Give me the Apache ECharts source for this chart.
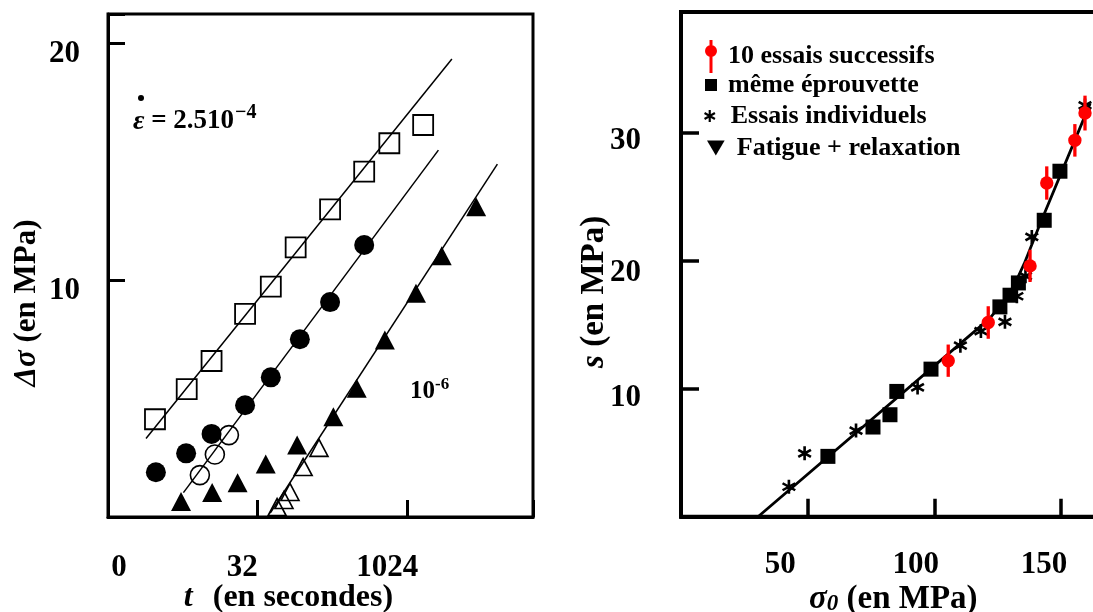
<!DOCTYPE html>
<html>
<head>
<meta charset="utf-8">
<script src="https://cdn.jsdelivr.net/npm/echarts@6/dist/echarts.min.js"></script>
<style>
  html, body { margin: 0; padding: 0; background: #fff; }
  #chart { width: 1093px; height: 612px; }
</style>
</head>
<body>
<div id="chart"></div>
<script>
// ---------- Left panel: stress rise Δσ (MPa) against log2 of time t (s) ----------
const leftXTicks = [0, 5, 10];
const leftXTickLabels = ['0', '32', '1024'];
const leftYTicks = [10, 20];

// [log2(t), Δσ]
const rateHighSquares = [[1.57, 4.13], [2.63, 5.40], [3.46, 6.59], [4.58, 8.58], [5.44, 9.73],
  [6.27, 11.39], [7.42, 13.00], [8.56, 14.59], [9.40, 15.79], [10.53, 16.56]];
const rateMidDots = [[1.60, 1.89], [2.61, 2.69], [3.46, 3.51], [4.58, 4.72], [5.44, 5.90],
  [6.41, 7.51], [7.42, 9.08], [8.56, 11.49]];
const rateMidRings = [[3.07, 1.77], [3.57, 2.64], [4.04, 3.46]];
const rateLowTriangles = [[2.44, 0.65], [3.48, 1.03], [4.33, 1.45], [5.27, 2.24], [6.32, 3.04],
  [7.53, 4.24], [8.31, 5.44], [9.25, 7.48], [10.29, 9.45], [11.15, 11.04], [12.30, 13.11]];
const rateLowOpenTriangles = [[5.65, 0.42], [5.88, 0.72], [6.08, 1.06], [6.52, 2.11], [7.05, 2.92]];

const fitHigh = [[1.27, 3.32], [11.49, 19.35]];
const fitMid = [[2.52, 1.03], [11.04, 15.50]];
const fitLow = [[5.42, 0.17], [13.01, 14.91]];

// ---------- Right panel: s (MPa) against σ0 (MPa) ----------
const rightXTicks = [50, 100, 150];
const rightYTicks = [10, 20, 30];

// [σ0, s, half error bar]
const successiveTests = [[105.5, 12.18, 1.26], [121.3, 15.16, 1.27], [137.8, 19.58, 1.26],
  [144.4, 26.05, 1.30], [155.5, 29.38, 1.27], [159.5, 31.51, 1.36]];
const sameSpecimen = [[58.0, 4.71], [75.8, 7.00], [82.5, 7.96], [85.2, 9.78], [98.7, 11.52],
  [125.9, 16.38], [129.9, 17.29], [133.2, 18.25], [143.4, 23.14], [149.6, 26.97]];
const individualTests = [[42.6, 2.34], [48.8, 4.95], [69.1, 6.72], [93.4, 10.09], [110.3, 13.35],
  [118.4, 14.49], [127.9, 15.21], [132.6, 17.21], [136.0, 18.78], [138.5, 21.84], [159.5, 32.11]];
const fatigueRelaxation = [];
const fitCurve = [[30.4, 0], [122.0, 15.50], [127.5, 16.85], [131.5, 18.05], [135.5, 19.75],
  [141.7, 22.83], [161.5, 32.25]];

// ---------- styling ----------
const FONT = 'Liberation Serif';
const INK = '#000';
const RED = '#ff0000';
const ASTERISK = 'path://M41 0L59 0L59 100L41 100Z' +
  'M11.2 17.21L97.8 67.21L88.8 82.79L2.2 32.79Z' +
  'M2.2 67.21L88.8 17.21L97.8 32.79L11.2 82.79Z';
const ERRBAR_ICON = 'path://M4.5 0H7.5V33H4.5Z M0 11A6 6 0 1 1 12 11A6 6 0 1 1 0 11Z';
const DOWN_TRIANGLE = 'path://M0 0H20L10 17Z';

const baseText = { fontFamily: FONT, fontWeight: 'bold', color: INK };

function tickFormatter(ticks, labels, prefix) {
  return function (v) {
    const i = ticks.indexOf(v);
    return i < 0 ? '' : '{' + prefix + i + '|' + labels[i] + '}';
  };
}
function richShifts(prefix, paddings, size) {
  const r = {};
  paddings.forEach((p, i) => { r[prefix + i] = Object.assign({ fontSize: size, padding: p }, baseText); });
  return r;
}

const chart = echarts.init(document.getElementById('chart'), null, { renderer: 'canvas' });

const legendText = Object.assign({ fontSize: 26, lineHeight: 26 }, baseText);
const solid = (c) => ({ color: c, opacity: 1 });
const hollow = (w) => ({ color: 'rgba(0,0,0,0)', borderColor: INK, borderWidth: w, opacity: 1 });

const option = {
  backgroundColor: '#fff',
  animation: false,
  grid: [
    { left: 108, top: 14, width: 425, height: 503, show: true, borderColor: INK, borderWidth: 3,
      backgroundColor: 'transparent', outerBoundsMode: 'none', containLabel: false },
    { left: 681, top: 12, width: 430.6, height: 504.7, show: true, borderColor: INK, borderWidth: 4,
      backgroundColor: 'transparent', outerBoundsMode: 'none', containLabel: false }
  ],
  xAxis: [
    {
      gridIndex: 0, type: 'value', min: 0, max: 14.2, interval: 5,
      name: '{i|t}  (en secondes)', nameLocation: 'middle', nameGap: 65, nameMoveOverlap: false,
      nameTextStyle: Object.assign({ fontSize: 32, padding: [0, 64, 0, 0],
        rich: { i: Object.assign({ fontSize: 32, fontStyle: 'italic', padding: [0, 4, 0, 0] }, baseText) } }, baseText),
      axisLine: { show: true, onZero: false, lineStyle: { color: INK, width: 3 } },
      axisTick: { show: true, inside: true, length: 17, lineStyle: { color: INK, width: 3 } },
      splitLine: { show: false },
      axisLabel: Object.assign({ fontSize: 31, margin: 35,
        formatter: tickFormatter(leftXTicks, leftXTickLabels, 'a'),
        rich: richShifts('a', [[0, 0, 0, 22], [0, 31, 0, 0], [0, 40, 0, 0]], 31) }, baseText)
    },
    {
      gridIndex: 1, type: 'value', min: 0, max: 170, interval: 50,
      name: '{i|σ}{sub|0} (en MPa)', nameLocation: 'middle', nameGap: 66, nameMoveOverlap: false,
      nameTextStyle: Object.assign({ fontSize: 33, padding: [0, 6, 0, 0],
        rich: {
          i: Object.assign({ fontSize: 33, fontStyle: 'italic' }, baseText),
          sub: Object.assign({ fontSize: 23, fontStyle: 'italic', padding: [10, 0, 0, 0] }, baseText)
        } }, baseText),
      axisLine: { show: true, onZero: false, lineStyle: { color: INK, width: 4 } },
      axisTick: { show: true, inside: true, length: 18, lineStyle: { color: INK, width: 3.5 } },
      splitLine: { show: false },
      axisLabel: Object.assign({ fontSize: 31, margin: 33,
        formatter: tickFormatter(rightXTicks, rightXTicks.map(String), 'b'),
        rich: richShifts('b', [[0, 55, 0, 0], [0, 37, 0, 0], [0, 34, 0, 0]], 31) }, baseText)
    }
  ],
  yAxis: [
    {
      gridIndex: 0, type: 'value', min: 0, max: 21.25, interval: 10,
      name: '{i|Δσ} (en MPa)', nameLocation: 'middle', nameGap: 66, nameMoveOverlap: false,
      nameTextStyle: Object.assign({ fontSize: 31, padding: [0, 75, 0, 0],
        rich: { i: Object.assign({ fontSize: 31, fontStyle: 'italic' }, baseText) } }, baseText),
      axisLine: { show: true, onZero: false, lineStyle: { color: INK, width: 3 } },
      axisTick: { show: true, inside: true, length: 17, lineStyle: { color: INK, width: 3 } },
      splitLine: { show: false },
      axisLabel: Object.assign({ fontSize: 31, margin: 28,
        formatter: tickFormatter(leftYTicks, leftYTicks.map(String), 'c'),
        rich: richShifts('c', [[22, 0, 0, 0], [20, 0, 0, 0]], 31) }, baseText)
    },
    {
      gridIndex: 1, type: 'value', min: 0, max: 39.4, interval: 10,
      name: '{i|s} (en MPa)', nameLocation: 'middle', nameGap: 70, nameMoveOverlap: false,
      nameTextStyle: Object.assign({ fontSize: 33, padding: [0, 55, 0, 0],
        rich: { i: Object.assign({ fontSize: 33, fontStyle: 'italic' }, baseText) } }, baseText),
      axisLine: { show: true, onZero: false, lineStyle: { color: INK, width: 4 } },
      axisTick: { show: true, inside: true, length: 18, lineStyle: { color: INK, width: 3.5 } },
      splitLine: { show: false },
      axisLabel: Object.assign({ fontSize: 31, margin: 40,
        formatter: tickFormatter(rightYTicks, rightYTicks.map(String), 'd'),
        rich: richShifts('d', [[18, 0, 0, 0], [24, 0, 0, 0], [18, 0, 0, 0]], 31) }, baseText)
    }
  ],
  legend: [
    { left: 705, top: 38, padding: 0, orient: 'vertical', itemWidth: 12, itemHeight: 33, selectedMode: false,
      data: [{ name: '10 essais successifs', icon: ERRBAR_ICON }],
      textStyle: Object.assign({ padding: [0, 0, 11, 6] }, legendText) },
    { left: 705, top: 72, padding: 0, orient: 'vertical', itemWidth: 12, itemHeight: 12, selectedMode: false,
      data: [{ name: 'même éprouvette', icon: 'rect' }],
      textStyle: Object.assign({ padding: [0, 0, 0, 6] }, legendText) },
    { left: 704, top: 103, padding: 0, orient: 'vertical', itemWidth: 12, itemHeight: 12, selectedMode: false,
      data: [{ name: 'Essais individuels', icon: ASTERISK }],
      textStyle: Object.assign({ padding: [0, 0, 0, 10] }, legendText) },
    { left: 707, top: 135, padding: 0, orient: 'vertical', itemWidth: 18, itemHeight: 15, selectedMode: false,
      data: [{ name: 'Fatigue + relaxation', icon: DOWN_TRIANGLE }],
      textStyle: Object.assign({ padding: [0, 0, 0, 7] }, legendText) }
  ],
  graphic: [
    // ε̇ = 2.5·10⁻⁴ label
    { type: 'circle', left: 138, top: 95, shape: { r: 3 }, style: { fill: INK }, silent: true },
    { type: 'text', left: 133, top: 103, silent: true,
      style: {
        text: '{e|ε} = 2.510{s|−4}',
        fontFamily: FONT, fontWeight: 'bold', fontSize: 27, fill: INK,
        rich: {
          e: { fontFamily: FONT, fontWeight: 'bold', fontStyle: 'italic', fontSize: 28, fill: INK },
          s: { fontFamily: FONT, fontWeight: 'bold', fontSize: 20, fill: INK, padding: [0, 0, 17, 1] }
        }
      } },
    // 10⁻⁶ label
    { type: 'text', left: 410, top: 376, silent: true,
      style: {
        text: '10{s|-6}',
        fontFamily: FONT, fontWeight: 'bold', fontSize: 25, fill: INK,
        rich: { s: { fontFamily: FONT, fontWeight: 'bold', fontSize: 17, fill: INK, padding: [0, 0, 14, 0] } }
      } }
  ],
  series: [
    // left fits
    { type: 'line', xAxisIndex: 0, yAxisIndex: 0, data: fitHigh, showSymbol: false, silent: true,
      lineStyle: { color: INK, width: 1.5 }, z: 1 },
    { type: 'line', xAxisIndex: 0, yAxisIndex: 0, data: fitMid, showSymbol: false, silent: true,
      lineStyle: { color: INK, width: 1.5 }, z: 1 },
    { type: 'line', xAxisIndex: 0, yAxisIndex: 0, data: fitLow, showSymbol: false, silent: true,
      lineStyle: { color: INK, width: 1.5 }, z: 1 },
    // left points
    { name: '2.5e-4', type: 'scatter', xAxisIndex: 0, yAxisIndex: 0, data: rateHighSquares,
      symbol: 'rect', symbolSize: 20, itemStyle: hollow(1.8), z: 3 },
    { name: 'mid', type: 'scatter', xAxisIndex: 0, yAxisIndex: 0, data: rateMidDots,
      symbol: 'circle', symbolSize: 20, itemStyle: solid(INK), z: 3 },
    { name: 'mid-open', type: 'scatter', xAxisIndex: 0, yAxisIndex: 0, data: rateMidRings,
      symbol: 'circle', symbolSize: 19, itemStyle: hollow(1.6), z: 3 },
    { name: '1e-6', type: 'scatter', xAxisIndex: 0, yAxisIndex: 0, data: rateLowTriangles,
      symbol: 'triangle', symbolSize: [20, 19], itemStyle: solid(INK), z: 3 },
    { name: '1e-6-open', type: 'scatter', xAxisIndex: 0, yAxisIndex: 0, data: rateLowOpenTriangles,
      symbol: 'triangle', symbolSize: [18, 17], itemStyle: hollow(1.6), z: 3 },

    // right fit
    { type: 'line', xAxisIndex: 1, yAxisIndex: 1, data: fitCurve, showSymbol: false, silent: true,
      smooth: false, lineStyle: { color: INK, width: 2.8 }, z: 1 },
    // right points
    { name: 'même éprouvette', type: 'scatter', xAxisIndex: 1, yAxisIndex: 1, data: sameSpecimen,
      symbol: 'rect', symbolSize: 15, itemStyle: solid(INK), z: 3 },
    { name: 'Essais individuels', type: 'scatter', xAxisIndex: 1, yAxisIndex: 1, data: individualTests,
      symbol: ASTERISK, symbolSize: 14, itemStyle: solid(INK), z: 3 },
    { name: '10 essais successifs', type: 'custom', xAxisIndex: 1, yAxisIndex: 1, data: successiveTests,
      itemStyle: solid(RED), z: 4,
      encode: { x: 0, y: 1 },
      renderItem: function (params, api) {
        const x = api.value(0), y = api.value(1), e = api.value(2);
        const c = api.coord([x, y]);
        const lo = api.coord([x, y - e]);
        const hi = api.coord([x, y + e]);
        return {
          type: 'group',
          children: [
            { type: 'line', shape: { x1: lo[0], y1: lo[1], x2: hi[0], y2: hi[1] }, style: { stroke: RED, lineWidth: 3.3 } },
            { type: 'circle', shape: { cx: c[0], cy: c[1], r: 6.7 }, style: { fill: RED } }
          ]
        };
      } },
    { name: 'Fatigue + relaxation', type: 'scatter', xAxisIndex: 1, yAxisIndex: 1, data: fatigueRelaxation,
      symbol: DOWN_TRIANGLE, symbolSize: [18, 15], itemStyle: solid(INK) }
  ]
};

chart.setOption(option);
</script>
</body>
</html>
